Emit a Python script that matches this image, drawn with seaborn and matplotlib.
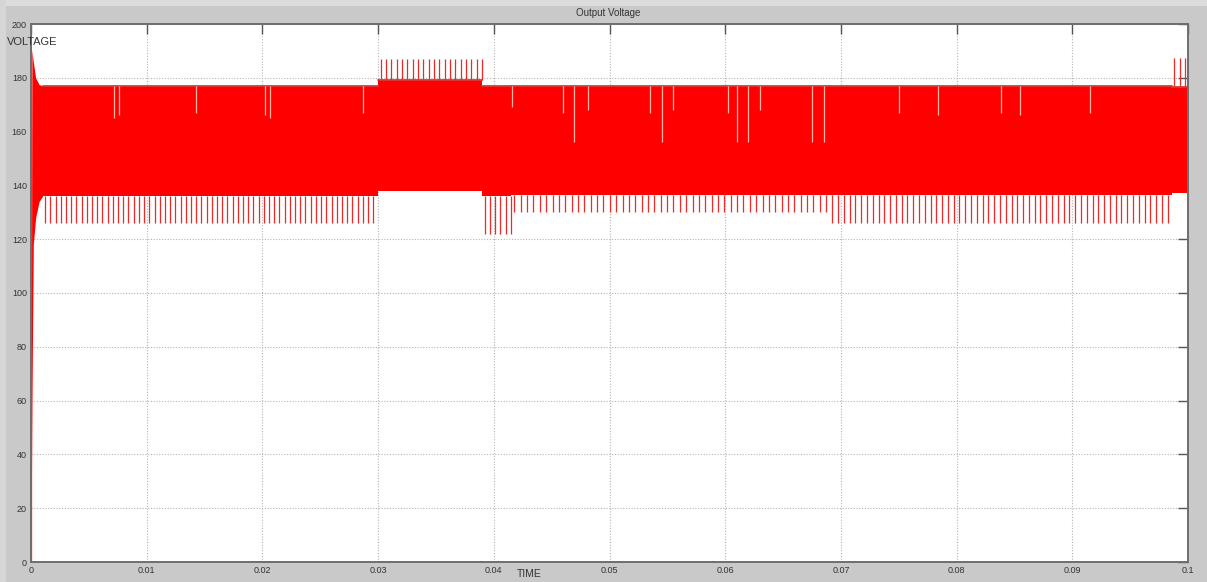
import numpy as np
import pandas as pd
import matplotlib
matplotlib.use("Agg")
import matplotlib.pyplot as plt
import seaborn as sns

# ---------------- data ----------------
# start-up transient (time, upper edge, lower edge of the trace)
start_t = [0.0, 0.00008, 0.0002, 0.0004, 0.0007, 0.0010]
start_high = [0.0, 190.0, 186.0, 180.0, 177.5, 177.0]
start_low = [0.0, 60.0, 118.0, 128.0, 134.0, 136.0]

# steady-state segments of the switching ripple band
seg_start = [0.0010, 0.0300, 0.0390, 0.0415, 0.0690, 0.0986]
seg_end = [0.0300, 0.0390, 0.0415, 0.0690, 0.0986, 0.1000]
band_low = [136.0, 138.0, 136.0, 136.5, 136.5, 137.0]
band_high = [177.0, 179.0, 177.0, 177.0, 177.0, 176.5]
spike_level = [126.0, 187.0, 122.0, 130.0, 126.0, 187.5]
spike_period = [0.00045, 0.00046, 0.00045, 0.00055, 0.00050, 0.00045]

# short dips of the trace inside the band (time, lowest value)
dip_times = [0.0072, 0.0076, 0.0143, 0.0202, 0.0207, 0.0287, 0.0416, 0.0460,
             0.0469, 0.0481, 0.0535, 0.0545, 0.0555, 0.0602, 0.0610, 0.0620,
             0.0630, 0.0675, 0.0685, 0.0750, 0.0784, 0.0838, 0.0855, 0.0915]
dip_low = [165, 166, 167, 166, 165, 167, 169, 167, 156, 168, 167, 156, 168,
           167, 156, 156, 168, 156, 156, 167, 166, 167, 166, 167]

x_ticks = [0, 0.01, 0.02, 0.03, 0.04, 0.05, 0.06, 0.07, 0.08, 0.09, 0.1]
x_labels = ["0", "0.01", "0.02", "0.03", "0.04", "0.05", "0.06", "0.07",
            "0.08", "0.09", "0.1"]
y_ticks = [0, 20, 40, 60, 80, 100, 120, 140, 160, 180, 200]
y_labels = [str(v) for v in y_ticks]

# ---------------- style ----------------
sns.set_style("white")
plt.rcParams["font.family"] = ["Liberation Sans", "DejaVu Sans"]

BG = "#c9c9c9"
RED = "#ff0000"
fig = plt.figure(figsize=(12.07, 5.82), dpi=100, facecolor=BG)
ax = fig.add_axes([31 / 1207, 1 - 562 / 582, (1188 - 31) / 1207, (562 - 24) / 582])
ax.set_facecolor("white")

# slightly lighter border strips of the scope window
fig.patches.append(plt.Rectangle((0, 1 - 6 / 582), 1, 6 / 582, transform=fig.transFigure,
                                 facecolor="#dcdcdc", edgecolor="none", zorder=-1))
fig.patches.append(plt.Rectangle((0, 0), 6 / 1207, 1, transform=fig.transFigure,
                                 facecolor="#d6d6d6", edgecolor="none", zorder=-1))

# grid
ax.set_xlim(0, 0.1)
ax.set_ylim(0, 200)
ax.set_xticks(x_ticks)
ax.set_yticks(y_ticks)
ax.grid(True, color="#b4b4b4", linestyle=(0, (1, 1.5)), linewidth=0.8, zorder=0)

# start-up transient
ax.fill_between(start_t, start_low, start_high, color=RED, linewidth=0, zorder=2)
ax.plot([0.00003, 0.00003], [0, 190], color=RED, lw=1.6, zorder=2)

# ripple band per segment
for s, e, lo, hi in zip(seg_start, seg_end, band_low, band_high):
    ax.fill_between([s, e], [lo, lo], [hi, hi], color=RED, linewidth=0, zorder=2)

# band top edges drawn with seaborn
rows = []
for k, (s, e, hi) in enumerate(zip(seg_start, seg_end, band_high)):
    rows.append({"t": s, "v": hi, "edge": f"top{k}"})
    rows.append({"t": e, "v": hi, "edge": f"top{k}"})
edge_df = pd.DataFrame(rows)
sns.lineplot(data=edge_df, x="t", y="v", units="edge", estimator=None,
             color="#d83a3a", lw=1.3, ax=ax, zorder=3, legend=False)

# switching spikes
for s, e, lvl, per, lo, hi in zip(seg_start, seg_end, spike_level, spike_period,
                                  band_low, band_high):
    ts = np.arange(s + per / 2, e, per)
    base = hi if lvl > hi else lo
    ax.vlines(ts, min(base, lvl), max(base, lvl), color="#f02828", lw=0.9, zorder=2)

# dips inside the band
for t, lo in zip(dip_times, dip_low):
    ax.vlines(t, lo, 177, color="#ffb8aa", lw=0.9, zorder=4)

# axes cosmetics (MATLAB scope look)
for sp in ax.spines.values():
    sp.set_color("#6e6e6e")
    sp.set_linewidth(1.4)
ax.tick_params(direction="in", length=7, width=1.0, color="#555555",
               top=True, right=True, labelsize=6.5, labelcolor="#333333", pad=3)
ax.set_xticklabels(x_labels)
ax.set_yticklabels(y_labels)
ax.set_xlabel("")
ax.set_ylabel("")

fig.text(608 / 1207, 1 - 13 / 582, "Output Voltage", ha="center", va="center",
         fontsize=7, color="#333333")
fig.text(7 / 1207, 1 - 42 / 582, "VOLTAGE", ha="left", va="center",
         fontsize=8, color="#333333", zorder=10)
fig.text(517 / 1207, 1 - 574 / 582, "TIME", ha="left", va="center",
         fontsize=7.5, color="#333333")

fig.savefig("out.png", dpi=100, facecolor=BG)
